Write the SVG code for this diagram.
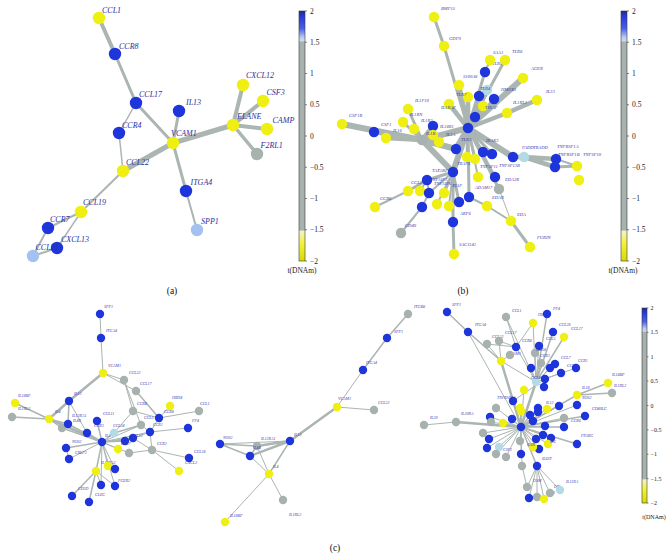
<svg xmlns="http://www.w3.org/2000/svg" width="670" height="557" viewBox="0 0 670 557">
<defs>
<style>
.e{stroke:#abb5b2;stroke-linecap:round;fill:none}
.Y{fill:#efef12}.B{fill:#1f35dc}.G{fill:#a7b1ae}.L{fill:#a3c1f1}.C{fill:#b2dbe6}
text{font-family:"Liberation Serif","Times New Roman",serif}
.ta{font-size:8px;font-style:italic;fill:#2e2e9c}
.tb{font-size:4.6px;font-style:italic;fill:#3c3cb0}
.tc{font-size:4px;font-style:italic;fill:#3c3cb0}
.k{font-size:7.5px;fill:#222}
.kc{font-size:6px;fill:#222}
.cap{font-size:9.5px;fill:#111;text-anchor:middle}
.bar{stroke:#3a3a3a;stroke-width:0.6}
.tick{stroke:#333;stroke-width:0.6}
</style>
<linearGradient id="cb" x1="0" y1="0" x2="0" y2="1">
<stop offset="0" stop-color="#1c2a8c"/>
<stop offset="0.02" stop-color="#2438d8"/>
<stop offset="0.07" stop-color="#4a60e6"/>
<stop offset="0.105" stop-color="#b9c8f2"/>
<stop offset="0.118" stop-color="#c9dcea"/>
<stop offset="0.125" stop-color="#a7b1ae"/>
<stop offset="0.875" stop-color="#a7b1ae"/>
<stop offset="0.882" stop-color="#f2f2c8"/>
<stop offset="0.93" stop-color="#f2f23a"/>
<stop offset="1" stop-color="#d9d900"/>
</linearGradient>
</defs>
<rect width="670" height="557" fill="#fff"/>

<!-- ===== connectors ===== -->
<g id="connectors">
<g id="edges-a" class="e">
<path stroke-width="5" d="M123,171L173,143M173,143L233,125"/>
<path stroke-width="4" d="M99,18L115,54M233,125L243,85M233,125L263,101M233,125L267,129"/>
<path stroke-width="3.5" d="M233,125L257,154"/>
<path stroke-width="3" d="M115,54L136,103M136,103L173,143M179,111L173,143M173,143L186,191"/>
<path stroke-width="2" d="M186,191L197,230M123,171L81,212M81,212L48,228M48,228L33,256M57,248L33,256"/>
<path stroke-width="1.5" d="M136,103L119,133M119,133L123,171M81,212L57,248"/>
</g>
<g id="edges-b" class="e">
<path stroke-width="6" d="M422,140L468,128M468,128L513,157M468,128L523,78M342,124L422,140M422,140L453,172M468,128L453,172M422,140L456,149M456,149L468,128"/>
<path stroke-width="4.5" d="M374,132L422,140M386,138L422,140M433,126L422,140M459,85L468,128M468,97L468,128M487,90L468,128M507,113L468,128M507,113L537,100M449,104L468,128M513,157L524,157M524,157L556,159M524,157L555,167M433,135L422,140M439,142L422,140"/>
<path stroke-width="3" d="M434,17L444,46M444,46L468,128M485,72L468,128M505,60L468,128M479,96L468,128M494,99L468,128M483,106L468,128M475,117L468,128M408,109L422,140M403,122L422,140M414,129L422,140M468,128L483,152M468,128L492,154M468,128L495,177M468,128L499,189M468,128L467,157M468,128L475,159M555,167L577,166M453,172L427,180M427,180L408,191M453,172L453,222M453,222L454,254M530,247L511,221M468,128L469,197M453,172L444,193M453,172L459,202"/>
<path stroke-width="2" d="M490,60L485,72M556,159L577,166M556,159L555,167M468,128L478,177M469,197L487,206M487,206L511,221M427,180L420,191M427,180L429,193M453,172L437,204M453,172L449,206M429,193L422,207M408,191L375,207M422,207L401,233M453,172L429,193"/>
<path stroke-width="1" d="M499,189L511,221"/>
</g>
<g id="edges-c" class="e">
<path stroke-width="2.5" d="M69,401L103,373M49,419L102,442M69,401L49,419M337,407L290,441M290,441L257,446M290,441L250,456M456,422L521,427M536,382L521,427M501,361L521,427"/>
<path stroke-width="1.5" d="M15,403L49,419M12,417L49,419M49,419L68,424M49,419L62,428M69,401L68,424M102,442L114,433M102,442L97,421M102,442L87,433M102,442L96,471M96,471L72,496M96,471L89,502M102,442L66,448M102,442L133,438M102,442L125,441M136,391L159,418M114,433L141,425M62,428L102,442M68,424L102,442M408,314L387,338M387,338L363,370M290,441L269,474M220,444L250,456M257,446L250,456M220,444L257,446M447,312L468,332M468,332L501,361M585,416L521,427M564,427L521,427M577,444L521,427M577,395L521,427M608,383L577,395M612,393L577,395M536,382L564,337M536,382L553,332M536,382L547,314M521,427L537,466M513,401L521,427"/>
<path stroke-width="1" d="M100,314L101,338M101,338L103,373M103,373L124,380M103,373L136,391M124,380L133,411M133,411L159,418M159,418L170,406M159,418L199,411M159,418L150,432M150,432L188,428M150,432L152,450M152,450L189,458M152,450L179,471M141,425L150,432M129,453L152,450M102,442L118,449M102,442L129,453M102,442L108,466M102,442L115,469M102,442L101,485M102,442L115,486M96,471L101,485M96,471L115,486M102,442L69,459M66,448L69,459M124,380L141,425M133,438L152,450M125,441L150,432M114,433L133,411M102,442L150,432M69,401L87,433M102,442L141,425M363,370L337,407M337,407L374,410M257,446L269,474M250,456L269,474M269,474L225,522M269,474L283,500M220,444L290,441M424,425L456,422M506,317L516,347M533,323L516,347M487,344L516,347M499,341L516,347M501,361L487,344M501,361L499,341M501,361L510,355M516,347L536,382M539,346L536,382M535,353L536,382M541,363L536,382M531,368L536,382M550,368L536,382M555,364L536,382M561,373L536,382M576,368L536,382M545,379L536,382M544,387L536,382M524,390L521,427M577,405L521,427M496,408L521,427M520,408L521,427M538,408L521,427M547,409L521,427M559,406L521,427M564,418L521,427M490,417L521,427M491,422L521,427M503,423L521,427M512,419L521,427M521,411L521,427M530,415L521,427M533,421L521,427M538,412L521,427M545,426L521,427M483,433L521,427M489,439L521,427M487,448L521,427M499,447L521,427M496,454L521,427M506,457L521,427M520,441L521,427M536,439L521,427M543,435L521,427M551,438L521,427M548,444L521,427M539,449L521,427M533,447L521,427M521,454L521,427M522,466L521,427M537,466L527,487M537,466L537,497M537,466L529,498M537,466L544,499M537,466L550,493M537,466L560,490M522,466L527,487M506,317L536,382M533,323L536,382M501,361L536,382M468,332L521,427M513,401L545,379"/>
</g>
</g>

<!-- ===== panel (a) nodes ===== -->
<g id="panel-a">
<g id="a-CCL1"><circle class="Y" cx="99" cy="18" r="6.2"/><text class="ta" x="102" y="13">CCL1</text></g>
<g id="a-CCR8"><circle class="B" cx="115" cy="54" r="6.2"/><text class="ta" x="119" y="48.5">CCR8</text></g>
<g id="a-CCL17"><circle class="B" cx="136" cy="103" r="6.2"/><text class="ta" x="139" y="96.5">CCL17</text></g>
<g id="a-IL13"><circle class="B" cx="179" cy="111" r="6.2"/><text class="ta" x="186" y="105">IL13</text></g>
<g id="a-CCR4"><circle class="B" cx="119" cy="133" r="6.2"/><text class="ta" x="122" y="128">CCR4</text></g>
<g id="a-VCAM1"><circle class="Y" cx="173" cy="143" r="6.2"/><text class="ta" x="171" y="136">VCAM1</text></g>
<g id="a-CCL22"><circle class="Y" cx="123" cy="171" r="6.2"/><text class="ta" x="126" y="165">CCL22</text></g>
<g id="a-ELANE"><circle class="Y" cx="233" cy="125" r="6.2"/><text class="ta" x="237" y="118.5">ELANE</text></g>
<g id="a-CXCL12"><circle class="Y" cx="243" cy="85" r="6.2"/><text class="ta" x="246" y="78">CXCL12</text></g>
<g id="a-CSF3"><circle class="Y" cx="263" cy="101" r="6.2"/><text class="ta" x="266.5" y="95">CSF3</text></g>
<g id="a-CAMP"><circle class="Y" cx="267" cy="129" r="6.2"/><text class="ta" x="272.5" y="123">CAMP</text></g>
<g id="a-F2RL1"><circle class="G" cx="257" cy="154" r="6.2"/><text class="ta" x="260.5" y="148">F2RL1</text></g>
<g id="a-ITGA4"><circle class="B" cx="186" cy="191" r="6.2"/><text class="ta" x="190.5" y="184.5">ITGA4</text></g>
<g id="a-SPP1"><circle class="L" cx="197" cy="230" r="6.2"/><text class="ta" x="201" y="223.5">SPP1</text></g>
<g id="a-CCL19"><circle class="Y" cx="81" cy="212" r="6.2"/><text class="ta" x="83" y="204.5">CCL19</text></g>
<g id="a-CCR7"><circle class="B" cx="48" cy="228" r="6.2"/><text class="ta" x="50" y="221.5">CCR7</text></g>
<g id="a-CXCL13"><circle class="B" cx="57" cy="248" r="6.2"/><text class="ta" x="61" y="241.5">CXCL13</text></g>
<g id="a-CCL21"><circle class="L" cx="33" cy="256" r="6.2"/><text class="ta" x="35.5" y="249.5">CCL21</text></g>
</g>

<!-- ===== panel (b) nodes ===== -->
<g id="panel-b">
<g id="b01"><circle class="Y" cx="434" cy="17" r="5.2"/><text class="tb" x="441" y="9.5">BMP15</text></g>
<g id="b02"><circle class="Y" cx="444" cy="46" r="5.2"/><text class="tb" x="449" y="39.5">GDF9</text></g>
<g id="b03"><circle class="Y" cx="459" cy="85" r="5.2"/><text class="tb" x="463" y="78">S100A8</text></g>
<g id="b04"><circle class="Y" cx="468" cy="97" r="5.2"/><text class="tb" x="456" y="96">TLR7</text></g>
<g id="b05"><circle class="B" cx="485" cy="72" r="5.2"/><text class="tb" x="492" y="65">TLR9</text></g>
<g id="b06"><circle class="Y" cx="490" cy="60" r="5.2"/><text class="tb" x="493" y="54">SAA1</text></g>
<g id="b07"><circle class="Y" cx="505" cy="60" r="5.2"/><text class="tb" x="512" y="53">TLR8</text></g>
<g id="b08"><circle class="Y" cx="523" cy="78" r="5.2"/><text class="tb" x="531" y="70">AGER</text></g>
<g id="b09"><circle class="C" cx="487" cy="90" r="5.2"/><text class="tb" x="480" y="90">TLR4</text></g>
<g id="b10"><circle class="B" cx="479" cy="96" r="5.2"/></g>
<g id="b11"><circle class="B" cx="494" cy="99" r="5.2"/><text class="tb" x="501" y="91">HMGB1</text></g>
<g id="b12"><circle class="Y" cx="483" cy="106" r="5.2"/><text class="tb" x="485" y="109">TIRAP</text></g>
<g id="b13"><circle class="Y" cx="507" cy="113" r="5.2"/><text class="tb" x="513" y="104">IL1RL1</text></g>
<g id="b14"><circle class="Y" cx="537" cy="100" r="5.2"/><text class="tb" x="546" y="93">IL33</text></g>
<g id="b15"><circle class="Y" cx="449" cy="104" r="5.2"/><text class="tb" x="441" y="109">IL1RAP</text></g>
<g id="b16"><circle class="B" cx="475" cy="117" r="5.2"/></g>
<g id="b17"><circle class="B" cx="468" cy="128" r="5.2"/></g>
<g id="b18"><circle class="Y" cx="408" cy="109" r="5.2"/><text class="tb" x="415" y="102">IL1F10</text></g>
<g id="b19"><circle class="Y" cx="403" cy="122" r="5.2"/><text class="tb" x="410" y="116">IL1RN</text></g>
<g id="b20"><circle class="Y" cx="414" cy="129" r="5.2"/><text class="tb" x="421" y="121.5">IL1R2</text></g>
<g id="b21"><circle class="B" cx="433" cy="126" r="5.2"/><text class="tb" x="440" y="127.5">IL18R1</text></g>
<g id="b22"><circle class="Y" cx="386" cy="138" r="5.2"/><text class="tb" x="393" y="132">IL16</text></g>
<g id="b23"><circle class="B" cx="374" cy="132" r="5.2"/><text class="tb" x="381" y="126">CSF1</text></g>
<g id="b24"><circle class="Y" cx="342" cy="124" r="5.2"/><text class="tb" x="349" y="117">CSF1R</text></g>
<g id="b25"><circle class="G" cx="422" cy="140" r="5.2"/></g>
<g id="b26"><circle class="Y" cx="433" cy="135" r="5.2"/><text class="tb" x="426" y="134.5">IL1B</text></g>
<g id="b27"><circle class="Y" cx="439" cy="142" r="5.2"/><text class="tb" x="446" y="136">IL1A</text></g>
<g id="b28"><circle class="B" cx="456" cy="149" r="5.2"/><text class="tb" x="461" y="141">TLR3</text></g>
<g id="b29"><circle class="B" cx="483" cy="152" r="5.2"/><text class="tb" x="486" y="142">IRAK3</text></g>
<g id="b30"><circle class="B" cx="492" cy="154" r="5.2"/></g>
<g id="b31"><circle class="B" cx="513" cy="157" r="5.2"/><text class="tb" x="522" y="149">FADD</text></g>
<g id="b32"><circle class="C" cx="524" cy="157" r="5.2"/><text class="tb" x="533" y="149">TRADD</text></g>
<g id="b33"><circle class="B" cx="556" cy="159" r="5.2"/><text class="tb" x="557" y="147.5">TNFRSF1A</text></g>
<g id="b34"><circle class="B" cx="555" cy="167" r="5.2"/><text class="tb" x="558" y="155.5">TNFRSF1B</text></g>
<g id="b35"><circle class="Y" cx="577" cy="166" r="5.2"/><text class="tb" x="583" y="155.5">TNFSF10</text></g>
<g id="b36"><circle class="Y" cx="579" cy="180" r="5.2"/></g>
<g id="b37"><circle class="Y" cx="467" cy="157" r="5.2"/><text class="tb" x="457" y="165">TRAF6</text></g>
<g id="b38"><circle class="Y" cx="475" cy="159" r="5.2"/></g>
<g id="b39"><circle class="B" cx="495" cy="177" r="5.2"/><text class="tb" x="499" y="167">TNFSF13B</text></g>
<g id="b40"><circle class="Y" cx="478" cy="177" r="5.2"/><text class="tb" x="480" y="168">TNFSF11</text></g>
<g id="b41"><circle class="G" cx="499" cy="189" r="5.2"/><text class="tb" x="505" y="181">EDA2R</text></g>
<g id="b42"><circle class="B" cx="469" cy="197" r="5.2"/><text class="tb" x="475" y="189">ADAM17</text></g>
<g id="b44"><circle class="Y" cx="487" cy="206" r="5.2"/><text class="tb" x="492" y="199">EDAR</text></g>
<g id="b45"><circle class="Y" cx="511" cy="221" r="5.2"/><text class="tb" x="517" y="215.5">EDA</text></g>
<g id="b46"><circle class="Y" cx="530" cy="247" r="5.2"/><text class="tb" x="537" y="239">FURIN</text></g>
<g id="b47"><circle class="B" cx="453" cy="172" r="5.2"/><text class="tb" x="432" y="171.5">TAX1BP1</text></g>
<g id="b48"><circle class="B" cx="427" cy="180" r="5.2"/><text class="tb" x="430" y="180.5">TNFAIP3</text></g>
<g id="b49"><circle class="Y" cx="408" cy="191" r="5.2"/><text class="tb" x="411" y="184">CCL2</text></g>
<g id="b50"><circle class="Y" cx="420" cy="191" r="5.2"/></g>
<g id="b51"><circle class="B" cx="429" cy="193" r="5.2"/></g>
<g id="b52"><circle class="Y" cx="444" cy="193" r="5.2"/><text class="tb" x="434" y="185">TNFAIP6</text></g>
<g id="b53"><circle class="Y" cx="437" cy="204" r="5.2"/></g>
<g id="b54"><circle class="Y" cx="449" cy="206" r="5.2"/><text class="tb" x="452" y="186.5">XIAP</text></g>
<g id="b55"><circle class="B" cx="422" cy="207" r="5.2"/></g>
<g id="b56"><circle class="B" cx="459" cy="202" r="5.2"/></g>
<g id="b57"><circle class="Y" cx="375" cy="207" r="5.2"/><text class="tb" x="380" y="200">CCR6</text></g>
<g id="b58"><circle class="G" cx="401" cy="233" r="5.2"/><text class="tb" x="405" y="226.5">CD40</text></g>
<g id="b59"><circle class="B" cx="453" cy="222" r="5.2"/><text class="tb" x="460" y="215">ARF6</text></g>
<g id="b60"><circle class="Y" cx="454" cy="254" r="5.2"/><text class="tb" x="459" y="245.5">SAC1141</text></g>
</g>

<!-- ===== panel (c) nodes ===== -->
<g id="panel-c">
<g id="cL01"><circle class="B" cx="100" cy="314" r="4.2"/><text class="tc" x="104" y="308">SPP1</text></g>
<g id="cL02"><circle class="B" cx="101" cy="338" r="4.2"/><text class="tc" x="106" y="331.5">ITGA4</text></g>
<g id="cL03"><circle class="Y" cx="103" cy="373" r="4.2"/><text class="tc" x="108" y="366.5">VCAM1</text></g>
<g id="cL04"><circle class="G" cx="124" cy="380" r="4.2"/><text class="tc" x="129" y="373.5">CCL22</text></g>
<g id="cL05"><circle class="G" cx="136" cy="391" r="4.2"/><text class="tc" x="140" y="385">CCL17</text></g>
<g id="cL06"><circle class="B" cx="69" cy="401" r="4.2"/><text class="tc" x="74" y="395">IL13</text></g>
<g id="cL07"><circle class="Y" cx="15" cy="403" r="4.2"/><text class="tc" x="18" y="397">IL18BP</text></g>
<g id="cL08"><circle class="G" cx="12" cy="417" r="4.2"/><text class="tc" x="18" y="410">IL1RL2</text></g>
<g id="cL09"><circle class="Y" cx="49" cy="419" r="4.2"/><text class="tc" x="55" y="413">IL4</text></g>
<g id="cL10"><circle class="G" cx="62" cy="428" r="4.2"/></g>
<g id="cL11"><circle class="B" cx="68" cy="424" r="4.2"/><text class="tc" x="72" y="417">IL13RA1</text><text class="tc" x="73" y="421.5">IL4R</text></g>
<g id="cL12"><circle class="B" cx="97" cy="421" r="4.2"/><text class="tc" x="103" y="414.5">CCL11</text></g>
<g id="cL13"><circle class="B" cx="87" cy="433" r="4.2"/><text class="tc" x="94" y="426.5">CCR3</text></g>
<g id="cL14"><circle class="C" cx="114" cy="433" r="4.2"/><text class="tc" x="113" y="426.5">CCL24</text></g>
<g id="cL15"><circle class="G" cx="133" cy="411" r="4.2"/><text class="tc" x="137" y="404.5">CCR4</text></g>
<g id="cL16"><circle class="B" cx="159" cy="418" r="4.2"/><text class="tc" x="164" y="412.5">CCR8</text></g>
<g id="cL17"><circle class="Y" cx="170" cy="406" r="4.2"/><text class="tc" x="172" y="399">HRH4</text></g>
<g id="cL18"><circle class="G" cx="199" cy="411" r="4.2"/><text class="tc" x="200" y="404.5">CCL1</text></g>
<g id="cL19"><circle class="G" cx="141" cy="425" r="4.2"/><text class="tc" x="144" y="419">CCL5</text></g>
<g id="cL20"><circle class="B" cx="150" cy="432" r="4.2"/><text class="tc" x="153" y="426">CCR1</text></g>
<g id="cL21"><circle class="B" cx="188" cy="428" r="4.2"/><text class="tc" x="192" y="422">PF4</text></g>
<g id="cL22"><circle class="B" cx="125" cy="441" r="4.2"/></g>
<g id="cL23"><circle class="B" cx="133" cy="438" r="4.2"/><text class="tc" x="131" y="436.5">CCL13</text></g>
<g id="cL24"><circle class="B" cx="102" cy="442" r="4.2"/><text class="tc" x="105" y="437">IL5</text></g>
<g id="cL25"><circle class="G" cx="152" cy="450" r="4.2"/><text class="tc" x="157" y="444.5">CCR2</text></g>
<g id="cL26"><circle class="G" cx="129" cy="453" r="4.2"/></g>
<g id="cL27"><circle class="Y" cx="118" cy="449" r="4.2"/><text class="tc" x="121" y="444.5">CCL7</text></g>
<g id="cL28"><circle class="B" cx="189" cy="458" r="4.2"/><text class="tc" x="194" y="453">CCL28</text></g>
<g id="cL29"><circle class="Y" cx="179" cy="471" r="4.2"/><text class="tc" x="185" y="464">CXCL3</text></g>
<g id="cL30"><circle class="B" cx="66" cy="448" r="4.2"/><text class="tc" x="72" y="442.5">NOS2</text></g>
<g id="cL31"><circle class="B" cx="69" cy="459" r="4.2"/><text class="tc" x="75" y="453.5">CRLF2</text></g>
<g id="cL32"><circle class="Y" cx="96" cy="471" r="4.2"/><text class="tc" x="101" y="463.5">IL13RA2</text></g>
<g id="cL33"><circle class="Y" cx="108" cy="466" r="4.2"/></g>
<g id="cL34"><circle class="B" cx="115" cy="469" r="4.2"/></g>
<g id="cL35"><circle class="B" cx="101" cy="485" r="4.2"/></g>
<g id="cL36"><circle class="B" cx="115" cy="486" r="4.2"/><text class="tc" x="118" y="481.5">FCER2</text></g>
<g id="cL37"><circle class="B" cx="72" cy="496" r="4.2"/><text class="tc" x="78" y="490">CD3D</text></g>
<g id="cL38"><circle class="B" cx="89" cy="502" r="4.2"/><text class="tc" x="95" y="496">CLEC</text></g>

<g id="cM01"><circle class="G" cx="408" cy="314" r="4.2"/><text class="tc" x="414" y="307.5">ITGB8</text></g>
<g id="cM02"><circle class="B" cx="387" cy="338" r="4.2"/><text class="tc" x="394" y="332.5">SPP1</text></g>
<g id="cM03"><circle class="B" cx="363" cy="370" r="4.2"/><text class="tc" x="366" y="363.5">ITGA4</text></g>
<g id="cM04"><circle class="Y" cx="337" cy="407" r="4.2"/><text class="tc" x="338" y="400">VCAM1</text></g>
<g id="cM05"><circle class="G" cx="374" cy="410" r="4.2"/><text class="tc" x="378" y="403.5">CCL22</text></g>
<g id="cM06"><circle class="B" cx="290" cy="441" r="4.2"/><text class="tc" x="294" y="435.5">IL13</text></g>
<g id="cM07"><circle class="B" cx="220" cy="444" r="4.2"/><text class="tc" x="223" y="438.5">NOS2</text></g>
<g id="cM08"><circle class="G" cx="257" cy="446" r="4.2"/><text class="tc" x="261" y="439.5">IL13RA1</text></g>
<g id="cM09"><circle class="B" cx="250" cy="456" r="4.2"/><text class="tc" x="253" y="448.5">IL4R</text></g>
<g id="cM10"><circle class="Y" cx="269" cy="474" r="4.2"/><text class="tc" x="273" y="468">IL4</text></g>
<g id="cM11"><circle class="Y" cx="225" cy="522" r="4.2"/><text class="tc" x="230" y="516.5">IL18BP</text></g>
<g id="cM12"><circle class="G" cx="283" cy="500" r="4.2"/><text class="tc" x="289" y="516">IL1RL2</text></g>

<g id="cR01"><circle class="B" cx="447" cy="312" r="4.2"/><text class="tc" x="452" y="305.5">SPP1</text></g>
<g id="cR02"><circle class="B" cx="468" cy="332" r="4.2"/><text class="tc" x="475" y="325.5">ITGA4</text></g>
<g id="cR03"><circle class="G" cx="506" cy="317" r="4.2"/><text class="tc" x="512" y="311.5">CCL1</text></g>
<g id="cR04"><circle class="Y" cx="533" cy="323" r="4.2"/><text class="tc" x="538" y="316">HRH4</text></g>
<g id="cR05"><circle class="B" cx="547" cy="314" r="4.2"/><text class="tc" x="553" y="309.5">PF4</text></g>
<g id="cR06"><circle class="B" cx="553" cy="332" r="4.2"/><text class="tc" x="559" y="325.5">CCL26</text></g>
<g id="cR07"><circle class="Y" cx="564" cy="337" r="4.2"/><text class="tc" x="571" y="330">CCL27</text></g>
<g id="cR08"><circle class="G" cx="487" cy="344" r="4.2"/><text class="tc" x="492" y="337.5">CCL22</text></g>
<g id="cR09"><circle class="G" cx="499" cy="341" r="4.2"/><text class="tc" x="505" y="333.5">CCL17</text></g>
<g id="cR10"><circle class="B" cx="516" cy="347" r="4.2"/><text class="tc" x="522" y="341.5">CCR8</text></g>
<g id="cR11"><circle class="B" cx="539" cy="346" r="4.2"/><text class="tc" x="546" y="340">CCL5</text></g>
<g id="cR12"><circle class="Y" cx="501" cy="361" r="4.2"/><text class="tc" x="508" y="355">VCAM1</text></g>
<g id="cR13"><circle class="G" cx="510" cy="355" r="4.2"/></g>
<g id="cR14"><circle class="G" cx="535" cy="353" r="4.2"/><text class="tc" x="536" y="351">CCR4</text></g>
<g id="cR15"><circle class="G" cx="541" cy="363" r="4.2"/><text class="tc" x="540" y="357">CCR3</text></g>
<g id="cR16"><circle class="B" cx="531" cy="368" r="4.2"/></g>
<g id="cR17"><circle class="B" cx="550" cy="368" r="4.2"/></g>
<g id="cR18"><circle class="B" cx="555" cy="364" r="4.2"/><text class="tc" x="561" y="358.5">CCL7</text></g>
<g id="cR19"><circle class="B" cx="561" cy="373" r="4.2"/><text class="tc" x="567" y="367">CCL2</text></g>
<g id="cR20"><circle class="B" cx="576" cy="368" r="4.2"/><text class="tc" x="578" y="362">CCR1</text></g>
<g id="cR21"><circle class="C" cx="536" cy="382" r="4.2"/><text class="tc" x="531" y="379">CCL8</text></g>
<g id="cR22"><circle class="B" cx="545" cy="379" r="4.2"/></g>
<g id="cR23"><circle class="B" cx="544" cy="387" r="4.2"/></g>
<g id="cR24"><circle class="Y" cx="524" cy="390" r="4.2"/></g>
<g id="cR25"><circle class="Y" cx="608" cy="383" r="4.2"/><text class="tc" x="612" y="375.5">IL18BP</text></g>
<g id="cR26"><circle class="G" cx="612" cy="393" r="4.2"/><text class="tc" x="614" y="386.5">IL1RL2</text></g>
<g id="cR27"><circle class="Y" cx="577" cy="395" r="4.2"/><text class="tc" x="582" y="388.5">IL18</text></g>
<g id="cR28"><circle class="B" cx="577" cy="405" r="4.2"/><text class="tc" x="582" y="399">NOS2</text></g>
<g id="cR29"><circle class="B" cx="513" cy="401" r="4.2"/><text class="tc" x="497" y="399">TNFRSF1A</text></g>
<g id="cR30"><circle class="G" cx="496" cy="408" r="4.2"/></g>
<g id="cR31"><circle class="Y" cx="520" cy="408" r="4.2"/></g>
<g id="cR32"><circle class="B" cx="538" cy="408" r="4.2"/></g>
<g id="cR33"><circle class="Y" cx="547" cy="409" r="4.2"/><text class="tc" x="546" y="403.5">IL13</text></g>
<g id="cR34"><circle class="B" cx="559" cy="406" r="4.2"/></g>
<g id="cR36"><circle class="B" cx="585" cy="416" r="4.2"/><text class="tc" x="592" y="410">CD40LG</text></g>
<g id="cR37"><circle class="G" cx="564" cy="418" r="4.2"/></g>
<g id="cR38"><circle class="G" cx="424" cy="425" r="4.2"/><text class="tc" x="430" y="418.5">IL20</text></g>
<g id="cR39"><circle class="G" cx="456" cy="422" r="4.2"/><text class="tc" x="461" y="415">IL20RA</text></g>
<g id="cR40"><circle class="B" cx="490" cy="417" r="4.2"/></g>
<g id="cR41"><circle class="G" cx="491" cy="422" r="4.2"/></g>
<g id="cR42"><circle class="Y" cx="503" cy="423" r="4.2"/></g>
<g id="cR43"><circle class="B" cx="512" cy="419" r="4.2"/></g>
<g id="cR44"><circle class="Y" cx="521" cy="411" r="4.2"/></g>
<g id="cR45"><circle class="B" cx="530" cy="415" r="4.2"/></g>
<g id="cR46"><circle class="B" cx="533" cy="421" r="4.2"/></g>
<g id="cR47"><circle class="B" cx="538" cy="412" r="4.2"/></g>
<g id="cR48"><circle class="B" cx="521" cy="427" r="4.2"/></g>
<g id="cR49"><circle class="B" cx="545" cy="426" r="4.2"/></g>
<g id="cR50"><circle class="B" cx="564" cy="427" r="4.2"/><text class="tc" x="571" y="421.5">CCR6</text></g>
<g id="cR51"><circle class="G" cx="483" cy="433" r="4.2"/></g>
<g id="cR52"><circle class="B" cx="489" cy="439" r="4.2"/></g>
<g id="cR53"><circle class="B" cx="487" cy="448" r="4.2"/></g>
<g id="cR54"><circle class="C" cx="499" cy="447" r="4.2"/><text class="tc" x="503" y="451">CSF1</text></g>
<g id="cR55"><circle class="G" cx="496" cy="454" r="4.2"/></g>
<g id="cR56"><circle class="G" cx="506" cy="457" r="4.2"/></g>
<g id="cR57"><circle class="G" cx="520" cy="441" r="4.2"/></g>
<g id="cR58"><circle class="B" cx="536" cy="439" r="4.2"/></g>
<g id="cR59"><circle class="B" cx="543" cy="435" r="4.2"/></g>
<g id="cR60"><circle class="B" cx="551" cy="438" r="4.2"/></g>
<g id="cR61"><circle class="Y" cx="548" cy="444" r="4.2"/><text class="tc" x="550" y="442.5">IL6</text></g>
<g id="cR62"><circle class="B" cx="539" cy="449" r="4.2"/></g>
<g id="cR63"><circle class="Y" cx="533" cy="447" r="4.2"/><text class="tc" x="527" y="445.5">IL6R</text></g>
<g id="cR64"><circle class="B" cx="577" cy="444" r="4.2"/><text class="tc" x="581" y="437">PPARG</text></g>
<g id="cR65"><circle class="B" cx="521" cy="454" r="4.2"/></g>
<g id="cR66"><circle class="G" cx="522" cy="466" r="4.2"/></g>
<g id="cR67"><circle class="B" cx="537" cy="466" r="4.2"/><text class="tc" x="542" y="460">IL6ST</text></g>
<g id="cR68"><circle class="G" cx="527" cy="487" r="4.2"/><text class="tc" x="533" y="481.5">OSM</text></g>
<g id="cR69"><circle class="G" cx="537" cy="497" r="4.2"/></g>
<g id="cR70"><circle class="B" cx="529" cy="498" r="4.2"/></g>
<g id="cR71"><circle class="Y" cx="544" cy="499" r="4.2"/><text class="tc" x="546" y="493.5">CTF1</text></g>
<g id="cR72"><circle class="G" cx="550" cy="493" r="4.2"/><text class="tc" x="554" y="488">LIF</text></g>
<g id="cR73"><circle class="C" cx="560" cy="490" r="4.2"/><text class="tc" x="566" y="483">IL11RA</text></g>
</g>

<!-- ===== colour bars ===== -->
<g id="colorbar-a">
<rect class="bar" x="299" y="11" width="6" height="250" fill="url(#cb)"/>
<path class="tick" d="M305,11h2M305,42.25h2M305,73.5h2M305,104.75h2M305,136h2M305,167.25h2M305,198.5h2M305,229.75h2M305,261h2"/>
<g class="k">
<text x="310" y="13.5">2</text><text x="310" y="44.8">1.5</text><text x="310" y="76">1</text><text x="310" y="107.3">0.5</text><text x="310" y="138.5">0</text><text x="310" y="169.8">−0.5</text><text x="310" y="201">−1</text><text x="310" y="232.3">−1.5</text><text x="310" y="263.5">−2</text>
</g>
<text class="k" x="302" y="273" text-anchor="middle">t(DNAm)</text>
</g>
<g id="colorbar-b">
<rect class="bar" x="621" y="11" width="6" height="250" fill="url(#cb)"/>
<path class="tick" d="M627,11h2M627,42.25h2M627,73.5h2M627,104.75h2M627,136h2M627,167.25h2M627,198.5h2M627,229.75h2M627,261h2"/>
<g class="k">
<text x="632" y="13.5">2</text><text x="632" y="44.8">1.5</text><text x="632" y="76">1</text><text x="632" y="107.3">0.5</text><text x="632" y="138.5">0</text><text x="632" y="169.8">−0.5</text><text x="632" y="201">−1</text><text x="632" y="232.3">−1.5</text><text x="632" y="263.5">−2</text>
</g>
<text class="k" x="623" y="273" text-anchor="middle">t(DNAm)</text>
</g>
<g id="colorbar-c">
<rect class="bar" x="642" y="308" width="5" height="195" fill="url(#cb)"/>
<path class="tick" d="M647,308h1.5M647,332.4h1.5M647,356.8h1.5M647,381.1h1.5M647,405.5h1.5M647,429.9h1.5M647,454.3h1.5M647,478.6h1.5M647,503h1.5"/>
<g class="kc">
<text x="650.5" y="310">2</text><text x="650.5" y="334.4">1.5</text><text x="650.5" y="358.8">1</text><text x="650.5" y="383.1">0.5</text><text x="650.5" y="407.5">0</text><text x="650.5" y="431.9">−0.5</text><text x="650.5" y="456.3">−1</text><text x="650.5" y="480.6">−1.5</text><text x="650.5" y="505">−2</text>
</g>
<text class="kc" x="654" y="518.5" text-anchor="middle">t(DNAm)</text>
</g>

<g id="captions">
<text class="cap" x="172" y="294">(a)</text>
<text class="cap" x="463" y="294">(b)</text>
<text class="cap" x="335" y="551">(c)</text>
</g>
</svg>
